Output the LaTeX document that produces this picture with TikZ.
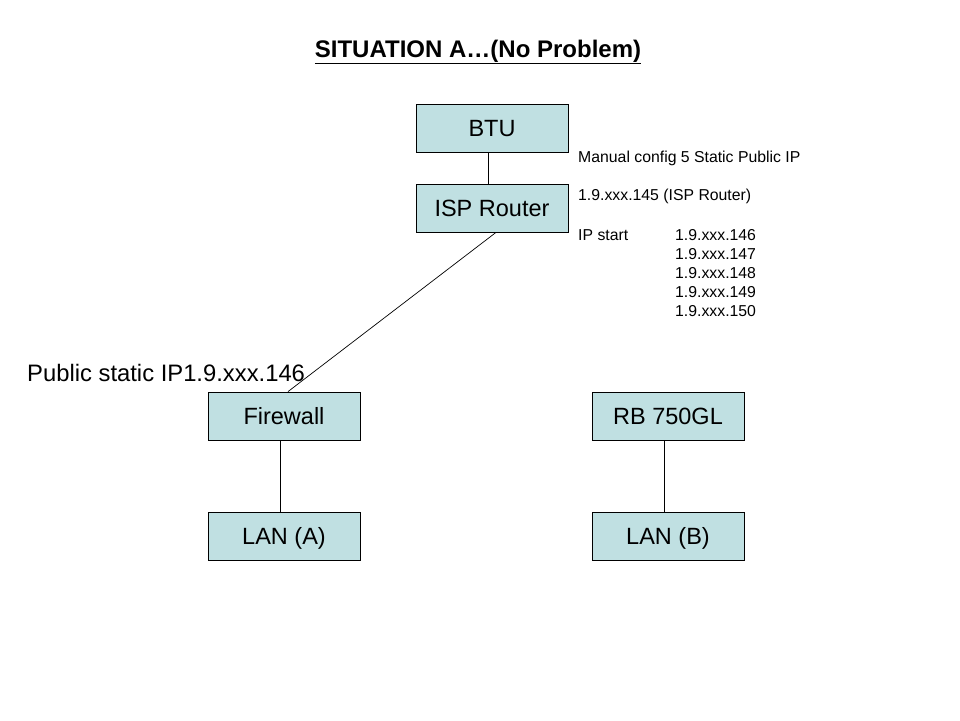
\documentclass[tikz,border=0pt]{standalone}
\usepackage{fontspec}
\setmainfont{Liberation Sans}
\begin{document}
\begin{tikzpicture}[x=1pt,y=-1pt,
  netbox/.style={draw=black, fill={rgb,255:red,192;green,224;blue,226}, line width=0.8pt,
    minimum width=152pt, minimum height=48pt, inner sep=0pt, text height=17pt, text depth=1pt,
    font=\fontsize{23.5}{28}\selectfont},
  link/.style={draw=black, line width=0.7pt},
  small/.style={anchor=west, inner sep=0pt, font=\fontsize{15.8}{18}\selectfont}]
\useasboundingbox (0,0) rectangle (960,720);
\node[inner sep=0pt, font=\bfseries\fontsize{24}{28}\selectfont] (title) at (478,52) {\underline{SITUATION A…(No Problem)}};
\node[netbox] (btu) at (492,128) {BTU};
\node[netbox] (isp) at (492,208) {ISP Router};
\node[netbox] (fw) at (284,416) {Firewall};
\node[netbox] (lana) at (284,536) {LAN (A)};
\node[netbox] (rb) at (668,416) {RB 750GL};
\node[netbox] (lanb) at (668,536) {LAN (B)};
\draw[link] ([xshift=-4pt]btu.south) -- ([xshift=-4pt]isp.north);
\draw[link] ([xshift=4pt]isp.south) -- ([xshift=4pt]fw.north);
\draw[link] ([xshift=-4pt]fw.south) -- ([xshift=-4pt]lana.north);
\draw[link] ([xshift=-4pt]rb.south) -- ([xshift=-4pt]lanb.north);
\node[small] (t1) at (578,158) {Manual config 5 Static Public IP};
\node[small] (t2) at (578,196) {1.9.xxx.145 (ISP Router)};
\node[small] (t3) at (578,235) {IP start};
\node[small] (ip1) at (675,235) {1.9.xxx.146};
\node[small] (ip2) at (675,254) {1.9.xxx.147};
\node[small] (ip3) at (675,273) {1.9.xxx.148};
\node[small] (ip4) at (675,292) {1.9.xxx.149};
\node[small] (ip5) at (675,311) {1.9.xxx.150};
\node[anchor=west, inner sep=0pt, font=\fontsize{23.8}{28}\selectfont] (pub) at (27,373) {Public static IP1.9.xxx.146};
\end{tikzpicture}
\end{document}
